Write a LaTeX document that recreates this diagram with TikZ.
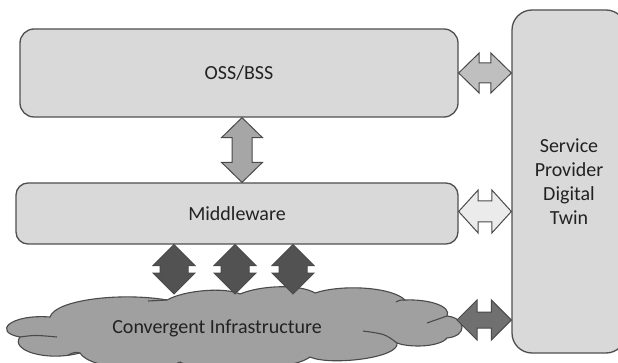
\documentclass[tikz,border=0pt]{standalone}
\usepackage{fontspec}
\setmainfont{Carlito}
\usetikzlibrary{calc}

\definecolor{boxfill}{HTML}{D9D9D9}
\definecolor{boxline}{HTML}{4F4F4F}
\definecolor{txt}{HTML}{222222}
\definecolor{cloudfill}{HTML}{A0A0A0}
\definecolor{arrowline}{HTML}{4A4A4A}

% horizontal double block arrow: style, left tip, right tip, head length, half head width, half shaft width
\newcommand\hblockarrow[6]{%
  \draw[#1] (#2) -- ++(#4,-#5) -- ++(0,#5-#6) -- ($(#3)+(-#4,-#6)$) -- ++(0,#6-#5)
    -- (#3) -- ++(-#4,#5) -- ++(0,#6-#5) -- ($(#2)+(#4,#6)$) -- ++(0,#5-#6) -- cycle;}
% vertical double block arrow: style, top tip, bottom tip, head length, half head width, half shaft width
\newcommand\vblockarrow[6]{%
  \draw[#1] (#2) -- ++(#5,#4) -- ++(#6-#5,0) -- ($(#3)+(#6,-#4)$) -- ++(#5-#6,0)
    -- (#3) -- ++(-#5,-#4) -- ++(#5-#6,0) -- ($(#2)+(-#6,#4)$) -- ++(#6-#5,0) -- cycle;}

\begin{document}
\begin{tikzpicture}[x=1pt,y=-1pt,
  box/.style={draw=boxline, fill=boxfill, line width=1.3pt, text=txt,
    font=\fontsize{20}{24}\selectfont, inner sep=0pt},
  blockarrow/.style={draw=arrowline, line width=1pt, line join=miter},
  cloudline/.style={draw=arrowline, line width=1.1pt}]
\useasboundingbox (0,0) rectangle (618,363);
\fill[white] (0,0) rectangle (618,363);

% layers
\node[box, rounded corners=14pt, minimum width=438pt, minimum height=88pt] (oss) at (239,73) {OSS/BSS};
\node[box, rounded corners=12pt, minimum width=442pt, minimum height=61pt] (mid) at (237,213.5) {Middleware};
\node[box, rounded corners=20pt, minimum width=114pt, minimum height=343pt, align=center] (sp) at (569,181.5)
  {Service\\Provider\\Digital\\Twin};

% cloud
\path[fill=cloudfill, cloudline]
  (50,317) .. controls (55,300) and (120,292) .. (167,300)
  .. controls (185,290) and (225,287) .. (240,294)
  .. controls (262,285) and (300,284) .. (315,293)
  .. controls (342,284) and (392,287) .. (405,300)
  .. controls (428,299) and (452,306) .. (447,316)
  .. controls (466,318) and (468,336) .. (447,338)
  .. controls (440,347) and (410,348) .. (397,343)
  .. controls (400,358) and (330,366) .. (310,357)
  .. controls (290,372) and (200,374) .. (180,362)
  .. controls (160,374) and (90,370) .. (80,353)
  .. controls (45,362) and (10,350) .. (20,337)
  .. controls (-8,332) and (10,314) .. (50,317) -- cycle;
\draw[cloudline] (20,337) .. controls (35,335) .. (57,337);
\draw[cloudline] (167,300) .. controls (158,300) .. (148,301);
\draw[cloudline] (447,316) .. controls (437,319) .. (427,323);
\draw[cloudline] (397,343) .. controls (385,334) .. (363,331);
\draw[cloudline] (80,353) .. controls (75,352) .. (68,355);
\draw[cloudline] (405,300) .. controls (400,300) .. (396,302);
\node[text=txt, font=\fontsize{20}{24}\selectfont] (infra) at (217,328) {Convergent Infrastructure};

% connector end points
\coordinate (ctop) at (240,294);
\coordinate (cright) at (457,320);
\coordinate (v1) at ($(oss.south)+(3,0)$);
\coordinate (v2) at (v1 |- mid.north);
\coordinate (o2) at (oss.east -| sp.west);
\coordinate (m1) at ($(mid.east)+(0,-2)$);
\coordinate (m2) at (m1 -| sp.west);
\coordinate (c2) at (cright -| sp.west);
\coordinate (a1) at ($(mid.south)+(-63,0)$);
\coordinate (a2) at ($(mid.south)+(-2,0)$);
\coordinate (a3) at ($(mid.south)+(56,0)$);
\coordinate (b1) at (a1 |- ctop);
\coordinate (b2) at (a2 |- ctop);
\coordinate (b3) at (a3 |- ctop);

% connectors
\vblockarrow{blockarrow, fill=black!35}{v1}{v2}{20}{20.5}{10}
\hblockarrow{blockarrow, fill=black!25}{oss.east}{o2}{20.5}{20}{10}
\hblockarrow{blockarrow, fill=black!8}{m1}{m2}{19.5}{21.5}{10.5}
\hblockarrow{blockarrow, fill=black!56}{cright}{c2}{20}{20}{8}
\vblockarrow{blockarrow, fill=black!68}{a1}{b1}{21}{21}{14}
\vblockarrow{blockarrow, fill=black!68}{a2}{b2}{21}{21}{14}
\vblockarrow{blockarrow, fill=black!68}{a3}{b3}{21}{21}{14}
\end{tikzpicture}
\end{document}
